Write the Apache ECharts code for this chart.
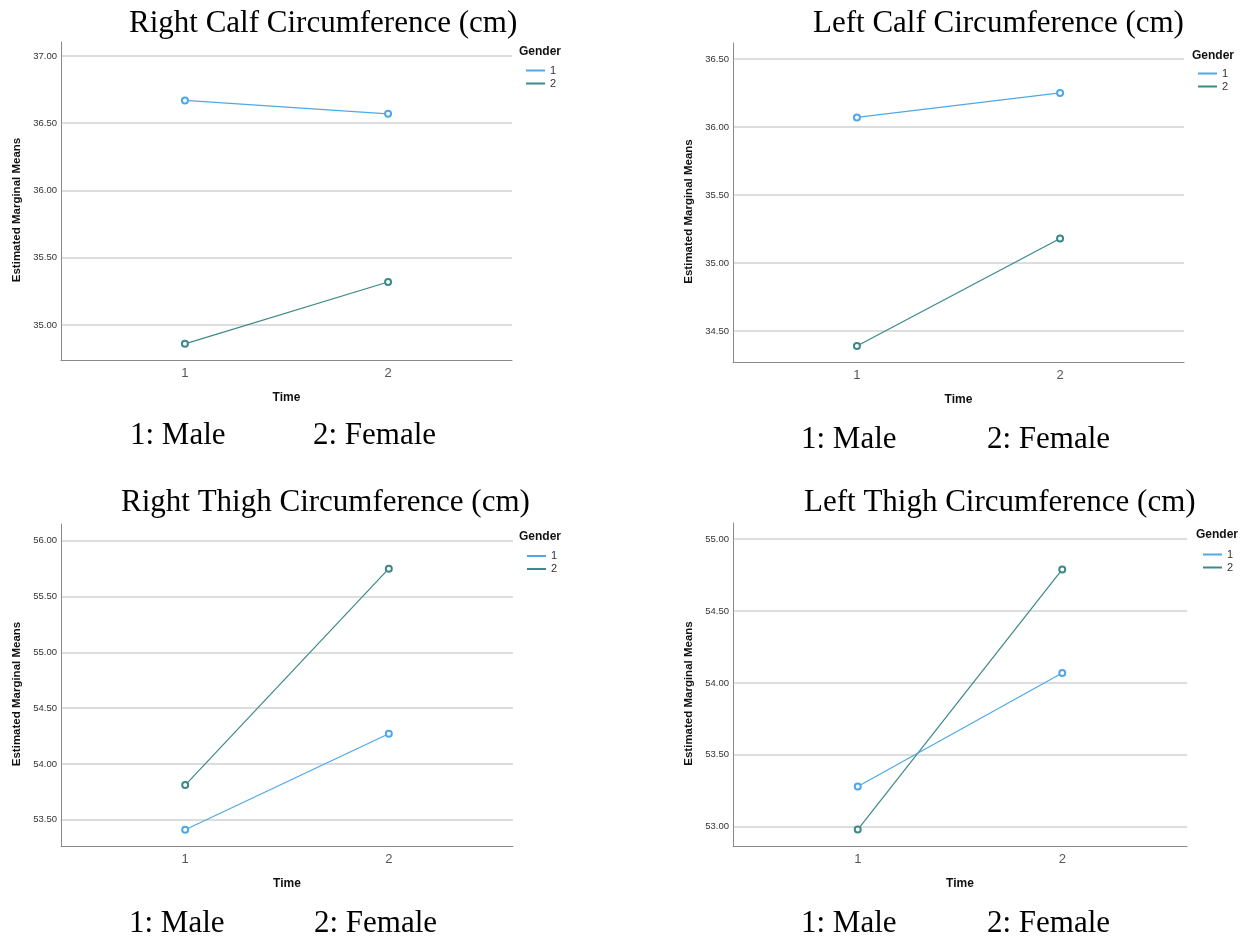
<!DOCTYPE html>
<html>
<head>
<meta charset="utf-8">
<title>Estimated Marginal Means</title>
<script src="https://cdn.jsdelivr.net/npm/echarts@6/dist/echarts.min.js"></script>
<style>
html, body { margin: 0; padding: 0; background: #fff; }
#chart { width: 1250px; height: 941px; }
</style>
</head>
<body>
<div id="chart"></div>
<script>
// values
var times = [1, 2];
var genders = ['1', '2'];

var rightCalfMale = [36.67, 36.57];
var rightCalfFemale = [34.86, 35.32];
var rightCalfTicks = [35.0, 35.5, 36.0, 36.5, 37.0];

var leftCalfMale = [36.07, 36.25];
var leftCalfFemale = [34.39, 35.18];
var leftCalfTicks = [34.5, 35.0, 35.5, 36.0, 36.5];

var rightThighMale = [53.41, 54.27];
var rightThighFemale = [53.81, 55.75];
var rightThighTicks = [53.5, 54.0, 54.5, 55.0, 55.5, 56.0];

var leftThighMale = [53.28, 54.07];
var leftThighFemale = [52.98, 54.79];
var leftThighTicks = [53.0, 53.5, 54.0, 54.5, 55.0];

var maleColor = '#4ea8e7';
var femaleColor = '#3d8888';

var panels = [
    { title: 'Right Calf Circumference (cm)', male: rightCalfMale, female: rightCalfFemale, ticks: rightCalfTicks,
      yMin: 34.74, yMax: 37.104, grid: { left: 61, top: 42, width: 451, height: 318 },
      titleX: 129, titleY: 23.5, capY: 436, capX: [130, 313], genderX: 519, genderY: 52, legX: 526, legY: 64 },
    { title: 'Left Calf Circumference (cm)', male: leftCalfMale, female: leftCalfFemale, ticks: leftCalfTicks,
      yMin: 34.273, yMax: 36.617, grid: { left: 733, top: 43, width: 451, height: 319 },
      titleX: 813, titleY: 24, capY: 440, capX: [801, 987], genderX: 1192, genderY: 55.5, legX: 1198, legY: 67 },
    { title: 'Right Thigh Circumference (cm)', male: rightThighMale, female: rightThighFemale, ticks: rightThighTicks,
      yMin: 53.264, yMax: 56.15, grid: { left: 61, top: 524, width: 452, height: 322 },
      titleX: 121, titleY: 503, capY: 924, capX: [129, 314], genderX: 519, genderY: 536.7, legX: 527, legY: 549.5 },
    { title: 'Left Thigh Circumference (cm)', male: leftThighMale, female: leftThighFemale, ticks: leftThighTicks,
      yMin: 52.866, yMax: 55.113, grid: { left: 733, top: 523, width: 454, height: 323 },
      titleX: 804, titleY: 503, capY: 924, capX: [801, 987], genderX: 1196, genderY: 535, legX: 1203, legY: 548 }
];

function pairs(values) {
    return times.map(function (t, i) {
        return [t, values[i]];
    });
}

var grids = [], xAxes = [], yAxes = [], series = [], legends = [], texts = [];

panels.forEach(function (p, i) {
    grids.push(p.grid);

    xAxes.push({
        type: 'value', gridIndex: i, min: 0.39, max: 2.61,
        name: 'Time', nameLocation: 'middle', nameGap: 32,
        nameTextStyle: { fontFamily: 'Liberation Sans', fontWeight: 'bold', fontSize: 12, color: '#111' },
        axisLine: { show: true, lineStyle: { color: '#8a8a8a', width: 1 } },
        axisTick: { show: false, customValues: times },
        axisLabel: { customValues: times, margin: 7, fontFamily: 'Liberation Sans', fontSize: 13, color: '#555' },
        splitLine: { show: false }
    });

    yAxes.push({
        type: 'value', gridIndex: i, min: p.yMin, max: p.yMax,
        name: 'Estimated Marginal Means', nameLocation: 'middle', nameGap: 38,
        nameTextStyle: { fontFamily: 'Liberation Sans', fontWeight: 'bold', fontSize: 11.5, color: '#111', padding: [0, 18, 0, 0] },
        axisLine: { show: true, lineStyle: { color: '#8a8a8a', width: 1 } },
        axisTick: { show: false, customValues: p.ticks },
        axisLabel: {
            customValues: p.ticks, margin: 4, fontFamily: 'Liberation Sans', fontSize: 9.5, color: '#333',
            formatter: function (v) { return v.toFixed(2); }
        },
        splitLine: { show: true, lineStyle: { color: '#d2d2d2', width: 1.5 } }
    });

    [p.male, p.female].forEach(function (vals, k) {
        series.push({
            type: 'line', name: genders[k], xAxisIndex: i, yAxisIndex: i,
            data: pairs(vals),
            symbol: 'emptyCircle', symbolSize: 6,
            lineStyle: { width: 1.2, color: k === 0 ? maleColor : femaleColor },
            itemStyle: { color: k === 0 ? maleColor : femaleColor, borderWidth: 1 },
            emphasis: { disabled: true },
            z: k === 0 ? 3 : 2
        });
    });

    legends.push({
        orient: 'vertical', left: p.legX, top: p.legY, padding: 0, itemGap: 0,
        itemWidth: 19, itemHeight: 2, icon: 'rect', selectedMode: false,
        textStyle: { fontFamily: 'Liberation Sans', fontSize: 11, color: '#333', lineHeight: 13 },
        data: [
            { name: genders[0], itemStyle: { color: maleColor } },
            { name: genders[1], itemStyle: { color: femaleColor } }
        ]
    });

    texts.push({
        type: 'text', x: p.titleX, y: p.titleY,
        style: { text: p.title, font: '31px "Liberation Serif"', fill: '#000', textAlign: 'left', textVerticalAlign: 'middle' }
    });
    texts.push({
        type: 'text', x: p.capX[0], y: p.capY,
        style: { text: '1: Male', font: '31px "Liberation Serif"', fill: '#000', textAlign: 'left', textVerticalAlign: 'middle' }
    });
    texts.push({
        type: 'text', x: p.capX[1], y: p.capY,
        style: { text: '2: Female', font: '31px "Liberation Serif"', fill: '#000', textAlign: 'left', textVerticalAlign: 'middle' }
    });
    texts.push({
        type: 'text', x: p.genderX, y: p.genderY,
        style: { text: 'Gender', font: 'bold 12px "Liberation Sans"', fill: '#111', textAlign: 'left', textVerticalAlign: 'middle' }
    });
});

var chart = echarts.init(document.getElementById('chart'));

chart.setOption({
    animation: false,
    backgroundColor: '#fff',
    grid: grids,
    xAxis: xAxes,
    yAxis: yAxes,
    legend: legends,
    series: series,
    graphic: texts
});
</script>
</body>
</html>
